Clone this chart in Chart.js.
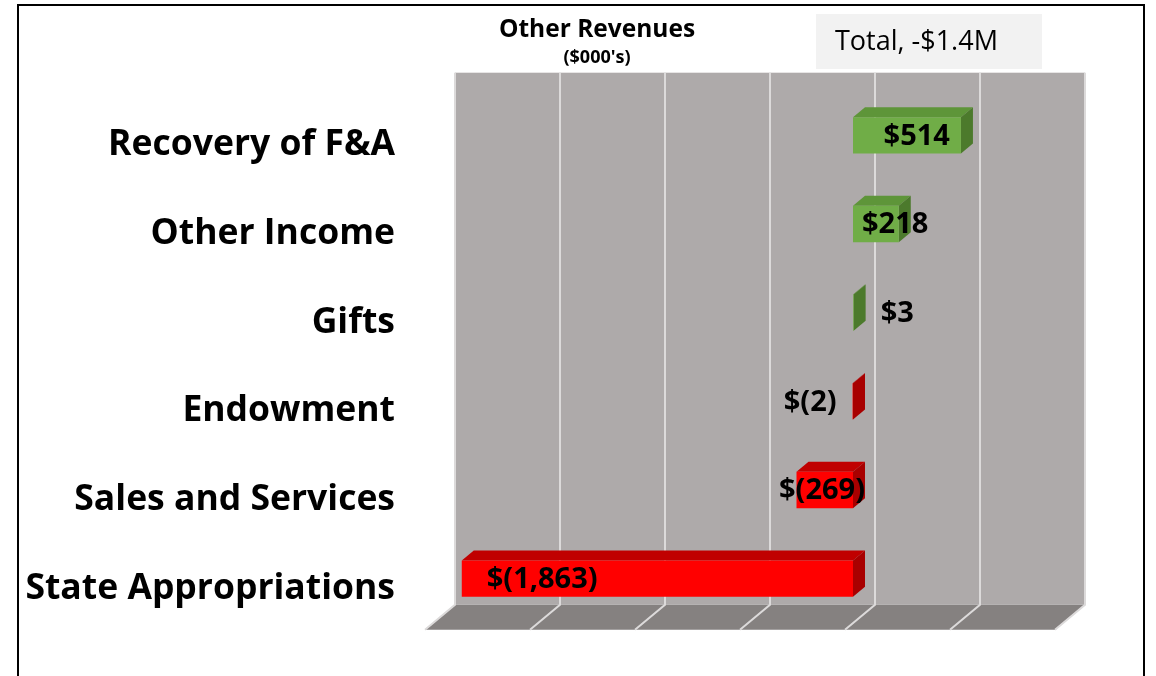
<!DOCTYPE html>
<html lang="en">
<head>
  <meta charset="UTF-8" />
  <title>Other Revenues</title>
  <style>
    html, body {
      margin: 0;
      padding: 0;
      background: #fff;
    }
    canvas {
      display: block;
    }
  </style>
</head>
<body>
  <canvas id="chart" width="1156" height="676"></canvas>

  <script src="https://cdn.jsdelivr.net/npm/chart.js"></script>
  <script>
    // values in $000's
    const categories = ['Recovery of F&A', 'Other Income', 'Gifts', 'Endowment', 'Sales and Services', 'State Appropriations'];
    const revenueValues = [514, 218, 3, -2, -269, -1863];
    const axisMin = -2000;
    const axisMax = 1000;
    const axisStep = 500;
    const chartTitle = 'Other Revenues';
    const chartSubtitle = "($000's)";
    const totalNote = 'Total, -$1.4M';

    const FONT = '"Open Sans", Lato, sans-serif';

    // 3D look: wall sits behind the bar plane, floor comes out in front of it
    const wallDx = 22, wallDy = -18.3;
    const floorDx = -30, floorDy = 25;
    const barDx = 12, barDy = -10;

    function money(v) {
      const s = Math.abs(v).toLocaleString('en-US');
      return v < 0 ? '$(' + s + ')' : '$' + s;
    }

    function poly(ctx, pts, fill) {
      ctx.beginPath();
      ctx.moveTo(pts[0][0], pts[0][1]);
      for (let i = 1; i < pts.length; i++) ctx.lineTo(pts[i][0], pts[i][1]);
      ctx.closePath();
      ctx.fillStyle = fill;
      ctx.fill();
    }

    // frame, heading and the total box
    const frameAndNote = {
      id: 'frameAndNote',
      beforeDraw(chart) {
        const ctx = chart.ctx;
        ctx.save();
        ctx.strokeStyle = '#000';
        ctx.lineWidth = 2;
        ctx.beginPath();
        ctx.moveTo(18, 676);
        ctx.lineTo(18, 5);
        ctx.lineTo(1144, 5);
        ctx.lineTo(1144, 676);
        ctx.stroke();

        ctx.fillStyle = '#000';
        ctx.textBaseline = 'middle';
        ctx.textAlign = 'center';
        ctx.font = 'bold 24.5px ' + FONT;
        ctx.fillText(chartTitle, 597, 30);
        ctx.font = 'bold 18px ' + FONT;
        ctx.fillText(chartSubtitle, 597, 58);

        ctx.fillStyle = '#f2f2f2';
        ctx.fillRect(816, 14, 226, 55);
        ctx.fillStyle = '#000';
        ctx.font = '27px ' + FONT;
        ctx.textAlign = 'left';
        ctx.fillText(totalNote, 835, 42);
        ctx.restore();
      }
    };

    const threeD = {
      id: 'threeD',
      beforeDatasetsDraw(chart) {
        const ctx = chart.ctx;
        const ca = chart.chartArea;
        const xs = chart.scales.x;
        const wl = ca.left + wallDx, wr = ca.right + wallDx;
        const wt = ca.top + wallDy, wb = ca.bottom + wallDy;
        ctx.save();

        // back wall
        ctx.fillStyle = '#aeaaaa';
        ctx.fillRect(wl, wt, wr - wl, wb - wt);

        // floor
        poly(ctx, [[wl, wb], [wr, wb], [wr + floorDx, wb + floorDy], [wl + floorDx, wb + floorDy]], '#858180');

        // grid on wall and floor
        ctx.strokeStyle = '#dcdada';
        ctx.lineWidth = 2;
        for (let v = axisMin; v <= axisMax; v += axisStep) {
          const gx = xs.getPixelForValue(v) + wallDx;
          ctx.beginPath();
          ctx.moveTo(gx, wt);
          ctx.lineTo(gx, wb);
          ctx.lineTo(gx + floorDx, wb + floorDy);
          ctx.stroke();
        }

        // top and side faces of each bar
        const meta = chart.getDatasetMeta(0);
        meta.data.forEach((bar, i) => {
          const pos = revenueValues[i] >= 0;
          const left = Math.min(bar.x, bar.base);
          const right = Math.max(bar.x, bar.base);
          const top = bar.y - bar.height / 2;
          const bottom = bar.y + bar.height / 2;
          poly(ctx, [[left, top], [right, top], [right + barDx, top + barDy], [left + barDx, top + barDy]],
            pos ? '#5e9539' : '#c00000');
          poly(ctx, [[right, top], [right + barDx, top + barDy], [right + barDx, bottom + barDy], [right, bottom]],
            pos ? '#4c7a2c' : '#a80000');
        });
        ctx.restore();
      },
      afterDatasetsDraw(chart) {
        const ctx = chart.ctx;
        const meta = chart.getDatasetMeta(0);
        ctx.save();
        ctx.font = 'bold 29px ' + FONT;
        ctx.fillStyle = '#000';
        ctx.textBaseline = 'middle';
        meta.data.forEach((bar, i) => {
          const v = revenueValues[i];
          const text = money(v);
          const w = ctx.measureText(text).width;
          const left = Math.min(bar.x, bar.base);
          const right = Math.max(bar.x, bar.base);
          let x;
          if (right - left < 10) {
            // tiny bar: label outside the end
            if (v >= 0) { ctx.textAlign = 'left'; x = right + barDx + 15; }
            else { ctx.textAlign = 'right'; x = left - 16; }
          } else if (w + 20 < right - left) {
            // fits: inside end
            if (v >= 0) { ctx.textAlign = 'right'; x = right - 11; }
            else { ctx.textAlign = 'left'; x = left + 25; }
          } else {
            // too short: hang off the zero line
            if (v >= 0) { ctx.textAlign = 'left'; x = bar.base + 9; }
            else { ctx.textAlign = 'right'; x = bar.base + 12; }
          }
          ctx.fillText(text, x, bar.y + 1);
        });
        ctx.restore();
      }
    };

    new Chart(document.getElementById('chart'), {
      type: 'bar',
      data: {
        labels: categories,
        datasets: [{
          data: revenueValues,
          backgroundColor: revenueValues.map(v => v >= 0 ? '#70ad47' : '#ff0000'),
          borderWidth: 0,
          barPercentage: 0.41,
          categoryPercentage: 1
        }]
      },
      options: {
        indexAxis: 'y',
        responsive: false,
        animation: false,
        layout: {
          padding: { left: 0, right: 93, top: 91, bottom: 53 }
        },
        plugins: {
          legend: { display: false },
          tooltip: { enabled: false },
          title: { display: false }
        },
        scales: {
          x: {
            display: false,
            min: axisMin,
            max: axisMax,
            ticks: { stepSize: axisStep }
          },
          y: {
            grid: { display: false, drawTicks: false },
            border: { display: false },
            ticks: {
              color: '#000',
              font: { family: FONT, size: 35.5, weight: 'bold' },
              padding: 38,
              labelOffset: 10
            },
            afterFit(scale) {
              scale.width = 433;
              // keep the label padding from eating into the plot height
              scale.paddingTop = 0;
              scale.paddingBottom = 0;
            }
          }
        }
      },
      plugins: [frameAndNote, threeD]
    });
  </script>
</body>
</html>
